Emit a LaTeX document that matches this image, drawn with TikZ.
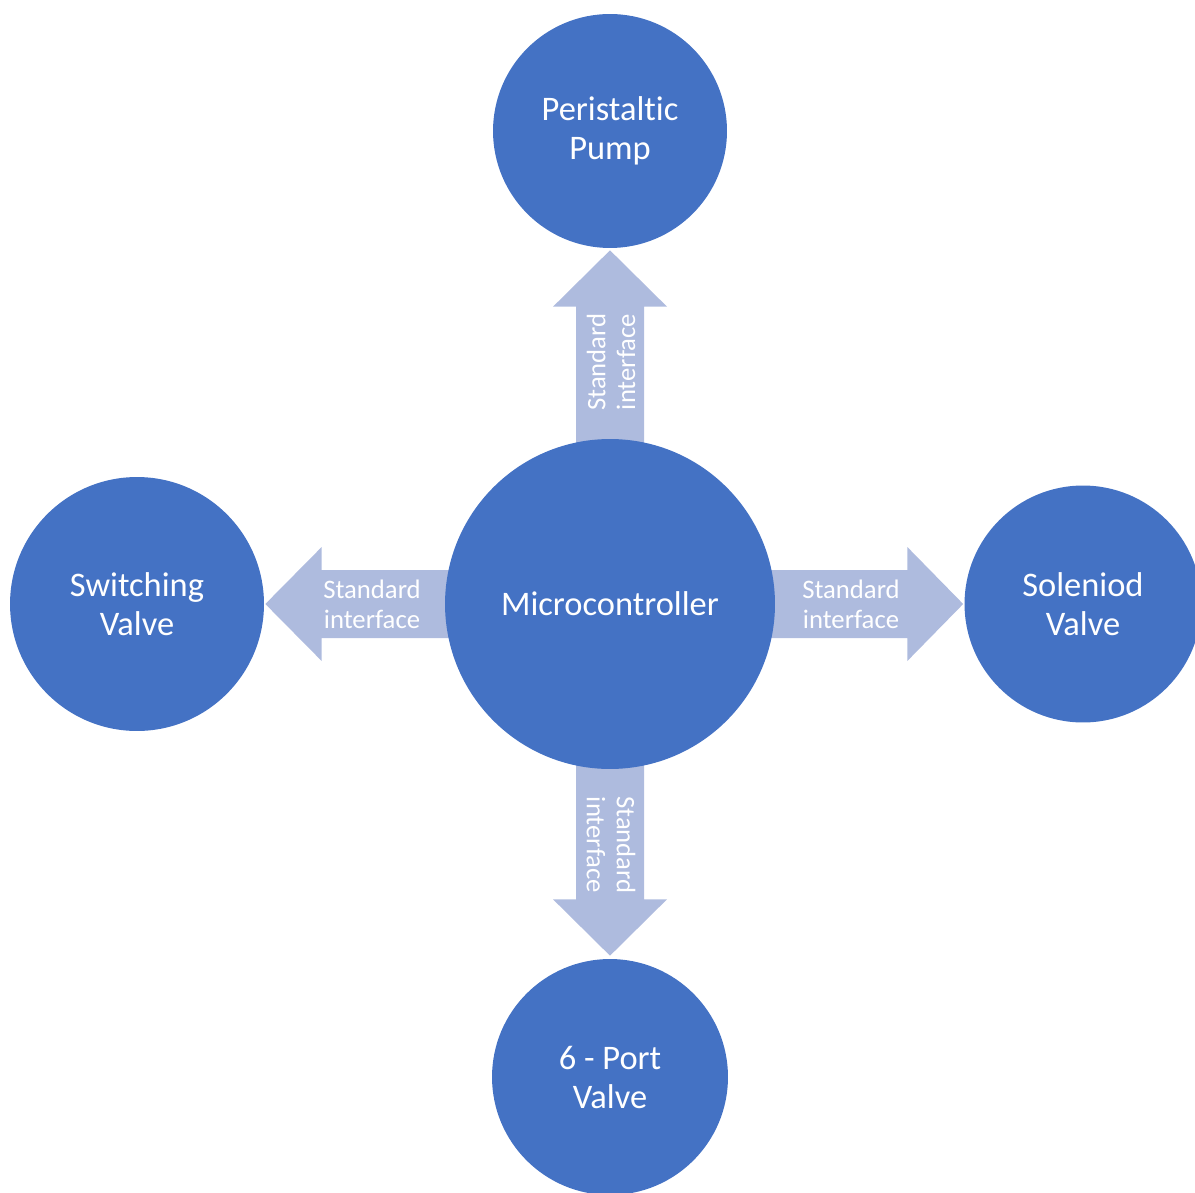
\documentclass[tikz,border=0pt]{standalone}
\usepackage{fontspec}
\setmainfont{Carlito}[Ligatures=NoCommon]
\usetikzlibrary{calc,backgrounds}
\definecolor{bubbleblue}{HTML}{4472C4}
\definecolor{arrowblue}{RGB}{174,187,222}
\tikzset{
  bubble/.style={circle, fill=bubbleblue, text=white, align=center, inner sep=0pt,
    font=\fontsize{19.6}{22.2}\selectfont},
  blockarrow/.style={fill=arrowblue},
  arrowlabel/.style={text=white, align=center, inner sep=0pt,
    font=\fontsize{15.2}{17}\selectfont},
}
\begin{document}
\begin{tikzpicture}[x=0.02cm, y=-0.02cm]
\useasboundingbox (0,0) rectangle (1195,1192);
% Draw circles
\node[bubble, minimum size=6.6cm] (mc) at (610,604) {Microcontroller};
\node[bubble, minimum size=4.68cm] (pump) at (610,131) {Peristaltic\\Pump};
\node[bubble, minimum size=5.08cm] (switch) at (137,604) {Switching\\Valve};
\node[bubble, minimum size=4.74cm] (solenoid) at (1083,604) {Soleniod\\Valve};
\node[bubble, minimum size=4.72cm] (port) at (610,1077) {6 - Port\\Valve};
% Draw block arrows
\begin{scope}[on background layer]
\fill[blockarrow] ($(mc.north)+(-34,5)$) -- ++(0,-137) -- ++(-23,0) -- ($(pump.south)+(0,2)$)
  -- ($(mc.north)+(57,-132)$) -- ++(-23,0) -- ++(0,137) -- cycle;
\fill[blockarrow] ($(mc.south)+(-34,-5)$) -- ++(0,135) -- ++(-23,0) -- ($(port.north)+(0,-3)$)
  -- ($(mc.south)+(57,130)$) -- ++(-23,0) -- ++(0,-135) -- cycle;
\fill[blockarrow] ($(mc.west)+(5,-34)$) -- ++(-128,0) -- ++(0,-23) -- ($(switch.east)+(1,0)$)
  -- ($(mc.west)+(-123,57)$) -- ++(0,-23) -- ++(128,0) -- cycle;
\fill[blockarrow] ($(mc.east)+(-5,-34)$) -- ++(137,0) -- ++(0,-23) -- ($(solenoid.west)+(-1,0)$)
  -- ($(mc.east)+(132,57)$) -- ++(0,-23) -- ++(-137,0) -- cycle;
\end{scope}
% Arrow labels
\node[arrowlabel, rotate=90] (uplabel) at (611,362) {Standard\\interface};
\node[arrowlabel, rotate=-90] (downlabel) at (611,845) {Standard\\interface};
\node[arrowlabel] (leftlabel) at (372,604) {Standard\\interface};
\node[arrowlabel] (rightlabel) at (851,604) {Standard\\interface};
\end{tikzpicture}
\end{document}
